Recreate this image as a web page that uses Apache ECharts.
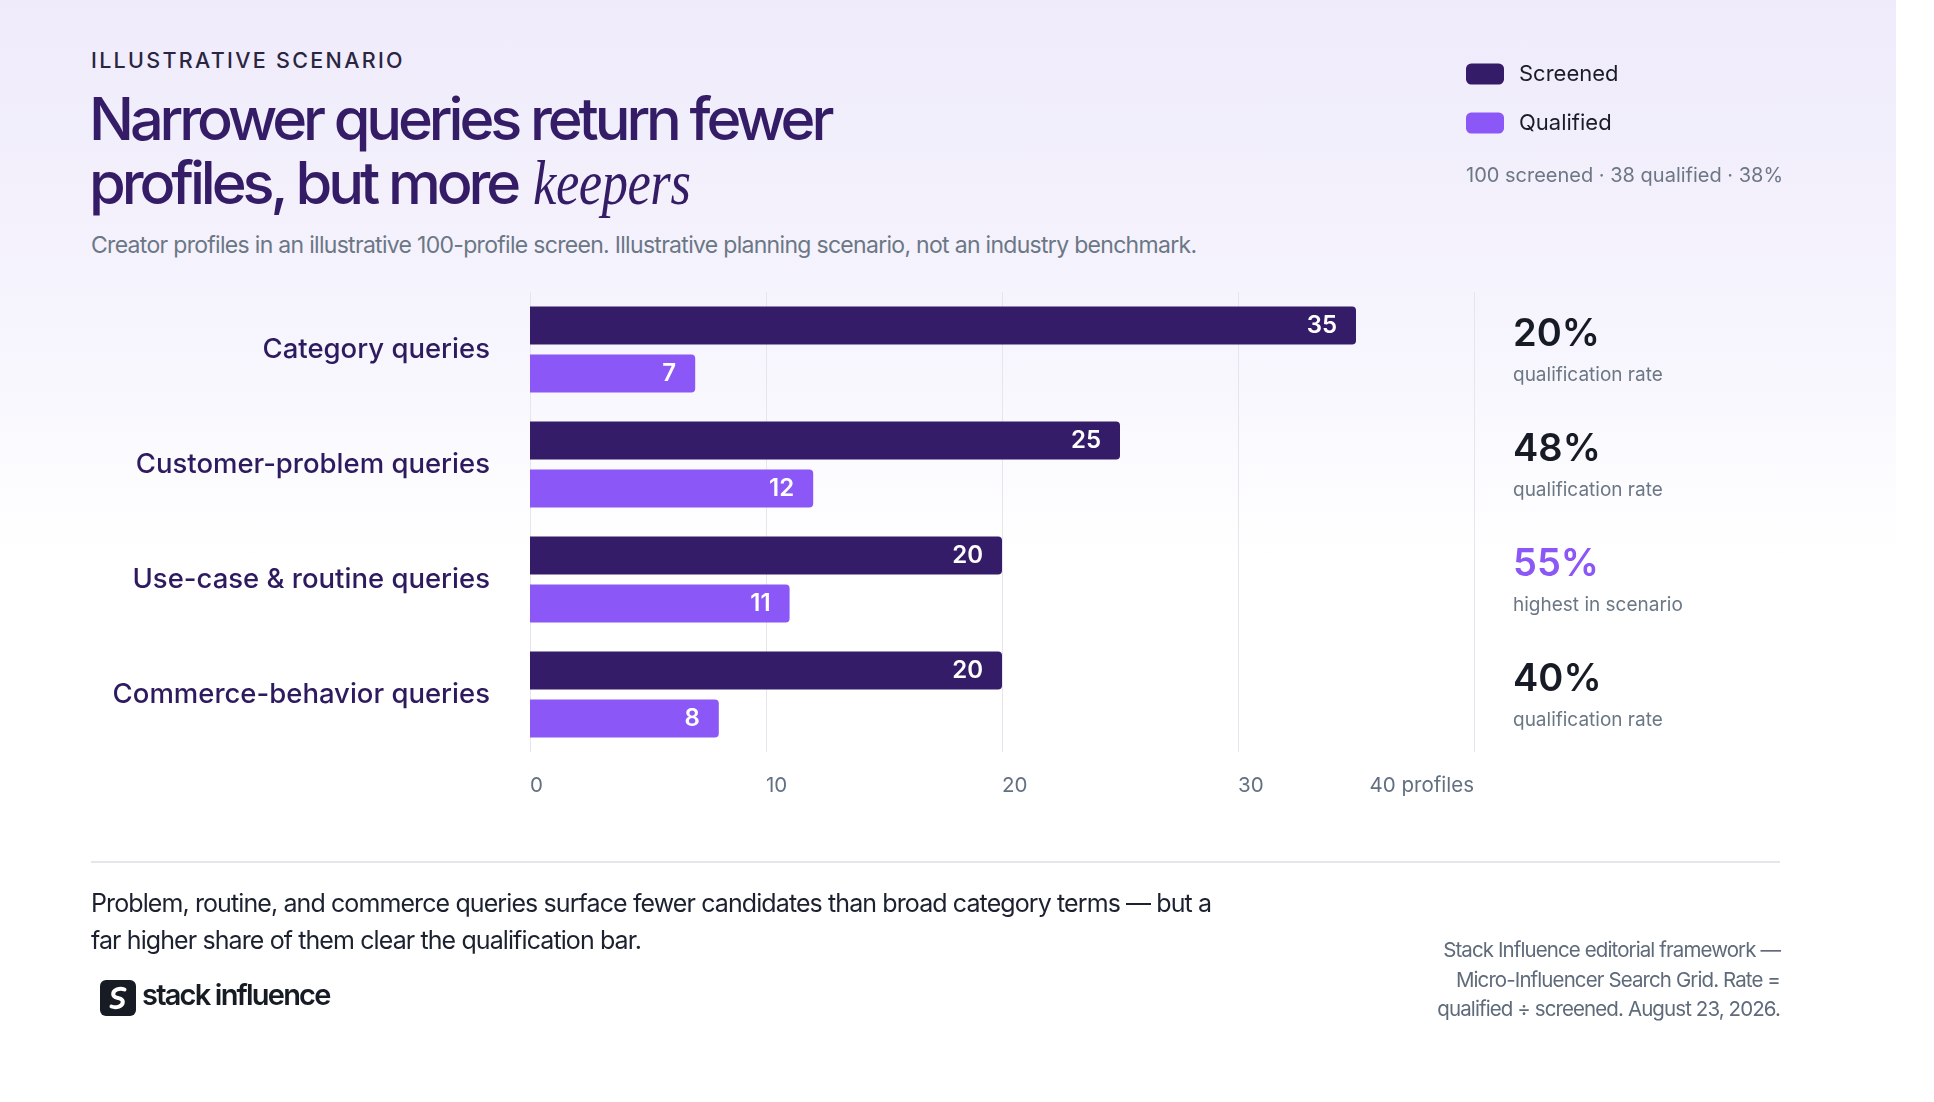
<!DOCTYPE html>
<html>
<head>
<meta charset="utf-8">
<script src="https://cdn.jsdelivr.net/npm/echarts@6/dist/echarts.min.js"></script>
<style>
  html, body { margin: 0; padding: 0; }
  body { width: 1934px; height: 1102px; background: #ffffff; position: relative; overflow: hidden; font-family: Inter, "Noto Sans", sans-serif; }
  #bg { position: absolute; left: 0; top: 0; width: 1896px; height: 1102px; background: linear-gradient(180deg, #efebfb 0px, #f6f4fd 320px, #ffffff 560px, #ffffff 1102px); }
  #chart { position: absolute; left: 0; top: 0; width: 1934px; height: 1102px; }
  .abs { position: absolute; white-space: nowrap; }
  #eyebrow { left: 91px; top: 50px; font-size: 21.5px; line-height: 21.5px; font-weight: 500; letter-spacing: 2.3px; color: #2a2540; }
  #title { left: 89px; top: 86.4px; font-size: 59.5px; line-height: 64px; font-weight: 500; letter-spacing: -4.1px; color: #341c66; }
  #title .k { display: inline-block; transform: scaleX(0.82); transform-origin: 0 50%; font-family: "Liberation Serif", "DejaVu Serif", serif; font-style: italic; font-weight: 400; letter-spacing: -0.5px; font-size: 64px; margin-left: 4px; }
  #subtitle { left: 91px; top: 234px; font-size: 23px; line-height: 23px; color: #6b7785; letter-spacing: -0.7px; }
  #rule { position: absolute; left: 91px; top: 861px; width: 1689px; height: 1.5px; background: #e7e5ec; }
  #foot { left: 91px; top: 885px; font-size: 25px; line-height: 36.7px; color: #1c2130; letter-spacing: -0.9px; }
  #logo { position: absolute; left: 100px; top: 980px; width: 36px; height: 36px; border-radius: 6px; background: #171b24; }
  #logo svg { position: absolute; left: 0; top: 0; }
  #brand { left: 142px; top: 977px; font-size: 29px; line-height: 36px; font-weight: 600; letter-spacing: -1.8px; color: #171b24; }
  #source { right: 154px; top: 935px; font-size: 20.5px; line-height: 29.5px; color: #5f6b7a; text-align: right; letter-spacing: -0.9px; }
</style>
</head>
<body>
<div id="bg"></div>
<div id="eyebrow" class="abs">ILLUSTRATIVE SCENARIO</div>
<div id="title" class="abs">Narrower queries return fewer<br>profiles, but more <span class="k">keepers</span></div>
<div id="subtitle" class="abs">Creator profiles in an illustrative 100-profile screen. Illustrative planning scenario, not an industry benchmark.</div>
<div id="chart"></div>
<div id="rule"></div>
<div id="foot" class="abs">Problem, routine, and commerce queries surface fewer candidates than broad category terms — but a<br>far higher share of them clear the qualification bar.</div>
<div id="logo"><svg width="36" height="36" viewBox="0 0 36 36"><path d="M24.5 9.5 C20 7.8 13 9.5 13.2 14.3 C13.4 17.2 16.5 17.6 18 18 M18 18 C19.5 18.4 22.6 18.8 22.8 21.7 C23 26.5 16 28.2 11.5 26.5" fill="none" stroke="#ffffff" stroke-width="4" stroke-linecap="round"/></svg></div>
<div id="brand" class="abs">stack influence</div>
<div id="source" class="abs">Stack Influence editorial framework —<br>Micro-Influencer Search Grid. Rate =<br>qualified ÷ screened. August 23, 2026.</div>
<script>
const categories = ['Category queries', 'Customer-problem queries', 'Use-case & routine queries', 'Commerce-behavior queries'];
const screened = [35, 25, 20, 20];
const qualified = [7, 12, 11, 8];
const seriesNames = ['Screened', 'Qualified'];
const xTicks = [0, 10, 20, 30, 40];
const xUnit = 'profiles';
const rateNote = 'qualification rate';
const topNote = 'highest in scenario';

const DARK = '#351c68';
const VIOLET = '#8b57f6';
const rates = categories.map((c, i) => Math.round(qualified[i] / screened[i] * 100));
const maxRate = Math.max(...rates);
const totS = screened.reduce((a, b) => a + b, 0);
const totQ = qualified.reduce((a, b) => a + b, 0);

const chart = echarts.init(document.getElementById('chart'), null, { renderer: 'canvas' });
const FONT = 'Inter';
chart.setOption({
  backgroundColor: 'transparent',
  animation: false,
  textStyle: { fontFamily: FONT },
  legend: {
    orient: 'vertical',
    left: 1466, top: 62, padding: 0,
    itemWidth: 38, itemHeight: 21, itemGap: 25,
    icon: 'roundRect',
    selectedMode: false,
    data: seriesNames,
    textStyle: { fontFamily: FONT, fontSize: 22, lineHeight: 24, color: '#1a1d29', padding: [0, 0, 0, 10] }
  },
  graphic: [{
    type: 'text', left: 1466, top: 166,
    style: { text: totS + ' screened · ' + totQ + ' qualified · ' + Math.round(totQ / totS * 100) + '%', fontFamily: FONT, fontSize: 20, fill: '#6b7785' }
  }],
  grid: { left: 530, right: 460, top: 292, height: 460, containLabel: false },
  xAxis: {
    type: 'value', min: 0, max: 40, interval: 10,
    axisLine: { show: false }, axisTick: { show: false },
    splitLine: { show: true, lineStyle: { color: '#e6e4ec', width: 1 } },
    axisLabel: {
      margin: 23, fontSize: 20.5, color: '#637082', fontFamily: FONT,
      align: 'left', alignMaxLabel: 'right',
      formatter: v => (v === xTicks[xTicks.length - 1] ? v + ' ' + xUnit : String(v))
    }
  },
  yAxis: [{
    type: 'category', data: categories, inverse: true,
    axisLine: { show: false }, axisTick: { show: false }, splitLine: { show: false },
    axisLabel: { margin: 40, fontSize: 27.5, fontWeight: 500, color: '#2e1b5f', fontFamily: FONT }
  }, {
    type: 'category', data: categories, inverse: true, position: 'right',
    axisLine: { show: false }, axisTick: { show: false }, splitLine: { show: false },
    axisLabel: {
      margin: 39, align: 'left',
      formatter: (v, i) => {
        const r = rates[i];
        return r === maxRate ? '{hi|' + r + '%}\n{sub|' + topNote + '}' : '{num|' + r + '%}\n{sub|' + rateNote + '}';
      },
      rich: {
        num: { fontFamily: FONT, fontSize: 38, fontWeight: 600, color: '#161b26', lineHeight: 51 },
        hi: { fontFamily: FONT, fontSize: 38, fontWeight: 600, color: VIOLET, lineHeight: 51 },
        sub: { fontFamily: FONT, fontSize: 19, color: '#6b7785', lineHeight: 29 }
      }
    }
  }],
  series: [{
    name: seriesNames[0], type: 'bar', data: screened, barWidth: 38, barGap: '26%',
    itemStyle: { color: DARK, borderRadius: [0, 4, 4, 0] },
    label: { show: true, position: 'insideRight', distance: 19, color: '#ffffff', fontSize: 24, fontWeight: 600, fontFamily: FONT }
  }, {
    name: seriesNames[1], type: 'bar', data: qualified, barWidth: 38,
    itemStyle: { color: VIOLET, borderRadius: [0, 4, 4, 0] },
    label: { show: true, position: 'insideRight', distance: 19, color: '#ffffff', fontSize: 24, fontWeight: 600, fontFamily: FONT }
  }]
});
</script>
</body>
</html>
